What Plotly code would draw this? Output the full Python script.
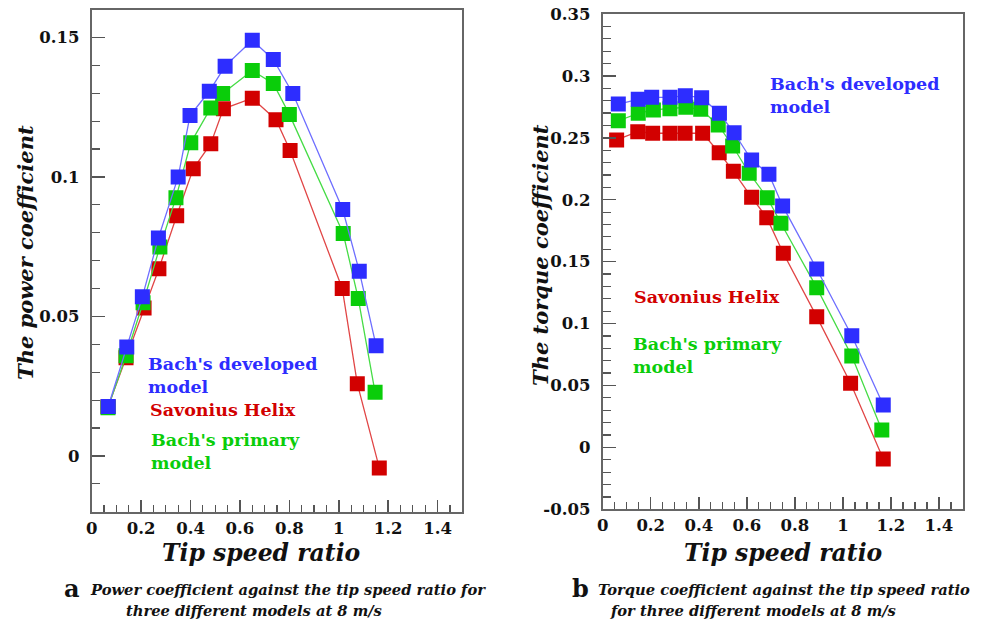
import plotly.graph_objects as go

# ---------------- data: (a) power coefficient ----------------
pc_dev_x = [0.067, 0.142, 0.205, 0.270, 0.350, 0.398, 0.476, 0.540, 0.650, 0.735, 0.814, 1.016, 1.083, 1.151]
pc_dev_y = [0.0177, 0.0390, 0.0570, 0.0781, 0.1000, 0.1220, 0.1307, 0.1397, 0.1490, 0.1421, 0.1299, 0.0883, 0.0662, 0.0395]
pc_pri_x = [0.066, 0.139, 0.208, 0.276, 0.341, 0.401, 0.482, 0.530, 0.650, 0.735, 0.800, 1.018, 1.079, 1.147]
pc_pri_y = [0.0173, 0.0359, 0.0549, 0.0749, 0.0925, 0.1122, 0.1247, 0.1299, 0.1381, 0.1335, 0.1224, 0.0797, 0.0564, 0.0228]
pc_sav_x = [0.066, 0.139, 0.212, 0.272, 0.344, 0.411, 0.482, 0.533, 0.650, 0.746, 0.803, 1.014, 1.075, 1.164]
pc_sav_y = [0.0176, 0.0352, 0.0530, 0.0671, 0.0861, 0.1029, 0.1119, 0.1244, 0.1282, 0.1205, 0.1095, 0.0600, 0.0259, -0.0043]

# ---------------- data: (b) torque coefficient ----------------
tc_dev_x = [0.065, 0.148, 0.204, 0.280, 0.344, 0.412, 0.486, 0.547, 0.620, 0.692, 0.749, 0.891, 1.037, 1.168]
tc_dev_y = [0.2773, 0.2811, 0.2827, 0.2827, 0.2840, 0.2824, 0.2698, 0.2541, 0.2321, 0.2206, 0.1950, 0.1441, 0.0902, 0.0342]
tc_pri_x = [0.065, 0.148, 0.211, 0.280, 0.346, 0.408, 0.481, 0.541, 0.610, 0.685, 0.742, 0.891, 1.037, 1.162]
tc_pri_y = [0.2638, 0.2698, 0.2725, 0.2735, 0.2747, 0.2730, 0.2604, 0.2434, 0.2214, 0.2017, 0.1810, 0.1290, 0.0738, 0.0141]
tc_sav_x = [0.058, 0.146, 0.208, 0.280, 0.343, 0.416, 0.485, 0.544, 0.620, 0.683, 0.752, 0.891, 1.032, 1.168]
tc_sav_y = [0.2483, 0.2550, 0.2537, 0.2537, 0.2537, 0.2537, 0.2380, 0.2230, 0.2020, 0.1855, 0.1568, 0.1056, 0.0518, -0.0094]

# ---------------- tick labels ----------------
x_tickvals = [0, 0.2, 0.4, 0.6, 0.8, 1.0, 1.2, 1.4]
x_ticktext = ["0", "0.2", "0.4", "0.6", "0.8", "1", "1.2", "1.4"]
pc_tickvals = [0, 0.05, 0.1, 0.15]
pc_ticktext = ["0", "0.05", "0.1", "0.15"]
tc_tickvals = [-0.05, 0, 0.05, 0.1, 0.15, 0.2, 0.25, 0.3, 0.35]
tc_ticktext = ["-0.05", "0", "0.05", "0.1", "0.15", "0.2", "0.25", "0.3", "0.35"]

BLUE = "rgb(45,45,255)"
GREEN = "rgb(10,205,10)"
RED = "rgb(210,0,0)"
BLUE_L = "rgb(110,110,255)"
GREEN_L = "rgb(70,220,70)"
RED_L = "rgb(225,70,70)"

SERIF = "DejaVu Serif"

fig = go.Figure()

def add(x, y, c, cl, xa, ya):
    fig.add_trace(go.Scatter(
        x=x, y=y, mode="lines+markers", xaxis=xa, yaxis=ya,
        line=dict(color=cl, width=1.3),
        marker=dict(symbol="square", size=15, color=c, line=dict(width=0)),
        showlegend=False, hoverinfo="skip"))

add(pc_sav_x, pc_sav_y, RED, RED_L, "x", "y")
add(pc_pri_x, pc_pri_y, GREEN, GREEN_L, "x", "y")
add(pc_dev_x, pc_dev_y, BLUE, BLUE_L, "x", "y")
add(tc_sav_x, tc_sav_y, RED, RED_L, "x2", "y2")
add(tc_pri_x, tc_pri_y, GREEN, GREEN_L, "x2", "y2")
add(tc_dev_x, tc_dev_y, BLUE, BLUE_L, "x2", "y2")

W, H = 988, 625
axis_common = dict(showgrid=False, zeroline=False, showline=True, mirror=True, automargin=False,
                   linecolor="#666666", linewidth=2, ticks="inside",
                   tickcolor="#555555", tickwidth=1.5,
                   tickfont=dict(family=SERIF, size=16.5, color="#111111", weight="bold"))

xaxis_base = dict(axis_common, range=[0, 1.5], tickvals=x_tickvals, ticktext=x_ticktext,
                  ticklen=12, ticklabelstandoff=0,
                  minor=dict(ticks="inside", dtick=0.05, ticklen=7, tickcolor="#555555", tickwidth=1.2))

fig.update_layout(
    width=W, height=H, margin=dict(l=0, r=0, t=0, b=0, pad=0, autoexpand=False),
    plot_bgcolor="white", paper_bgcolor="white",
    xaxis=dict(xaxis_base, domain=[91.7 / W, 462.3 / W], anchor="y"),
    yaxis=dict(axis_common, range=[-0.02, 0.16], domain=[1 - 511.7 / H, 1 - 9.5 / H], anchor="x",
               tickvals=pc_tickvals, ticktext=pc_ticktext, ticklen=13, ticklabelstandoff=7,
               minor=dict(ticks="inside", dtick=0.01, ticklen=8, tickcolor="#555555", tickwidth=1.2)),
    xaxis2=dict(xaxis_base, domain=[602.7 / W, 963 / W], anchor="y2"),
    yaxis2=dict(axis_common, range=[-0.05, 0.35], domain=[1 - 509.3 / H, 1 - 14 / H], anchor="x2",
                tickvals=tc_tickvals, ticktext=tc_ticktext, ticklen=13, ticklabelstandoff=7,
                minor=dict(ticks="inside", dtick=0.01, ticklen=8, tickcolor="#555555", tickwidth=1.2)),
)

def note(text, x, y, xref, yref, color, size=17.5, italic=False, bold=True, angle=0,
         xanchor="left", yanchor="middle", align="left", family=SERIF):
    t = text
    if bold:
        t = "<b>" + t + "</b>"
    if italic:
        t = "<i>" + t + "</i>"
    fig.add_annotation(text=t, x=x, y=y, xref=xref, yref=yref, showarrow=False,
                       font=dict(family=family, size=size, color=color), textangle=angle,
                       xanchor=xanchor, yanchor=yanchor, align=align, borderpad=0)

# series labels (a)
note("Bach's developed<br>model", 0.222, 0.0289, "x", "y", BLUE)
note("Savonius Helix", 0.230, 0.0163, "x", "y", RED)
note("Bach's primary<br>model", 0.237, 0.0014, "x", "y", GREEN)
# series labels (b)
note("Bach's developed<br>model", 0.694, 0.284, "x2", "y2", BLUE)
note("Savonius Helix", 0.128, 0.1217, "x2", "y2", RED)
note("Bach's primary<br>model", 0.120, 0.0746, "x2", "y2", GREEN)

# axis titles
note("Tip speed ratio", 261 / W, 1 - 553 / H, "paper", "paper", "#111111", size=23.5, italic=True,
     xanchor="center")
note("Tip speed ratio", 783 / W, 1 - 553 / H, "paper", "paper", "#111111", size=23.5, italic=True,
     xanchor="center")
note("The power coefficient", 25 / W, 1 - 253 / H, "paper", "paper", "#111111", size=21, italic=True,
     angle=-90, xanchor="center")
note("The torque coefficient", 541 / W, 1 - 255 / H, "paper", "paper", "#111111", size=21, italic=True,
     angle=-90, xanchor="center")

# captions
note("a", 63 / W, 1 - 588 / H, "paper", "paper", "#111111", size=24)
note("Power coefficient against the tip speed ratio for", 89 / W, 1 - 589 / H, "paper", "paper",
     "#111111", size=14.7, italic=True)
note("three different models at 8 m/s", 125 / W, 1 - 610 / H, "paper", "paper",
     "#111111", size=14.7, italic=True)
note("b", 571 / W, 1 - 588 / H, "paper", "paper", "#111111", size=24)
note("Torque coefficient against the tip speed ratio", 597 / W, 1 - 589 / H, "paper", "paper",
     "#111111", size=14.7, italic=True)
note("for three different models at 8 m/s", 609 / W, 1 - 610 / H, "paper", "paper",
     "#111111", size=14.7, italic=True)

fig.write_html("out.html",
               config=dict(displayModeBar=False, staticPlot=True),
               post_script="document.body.style.margin='0';document.body.style.overflow='hidden';")
